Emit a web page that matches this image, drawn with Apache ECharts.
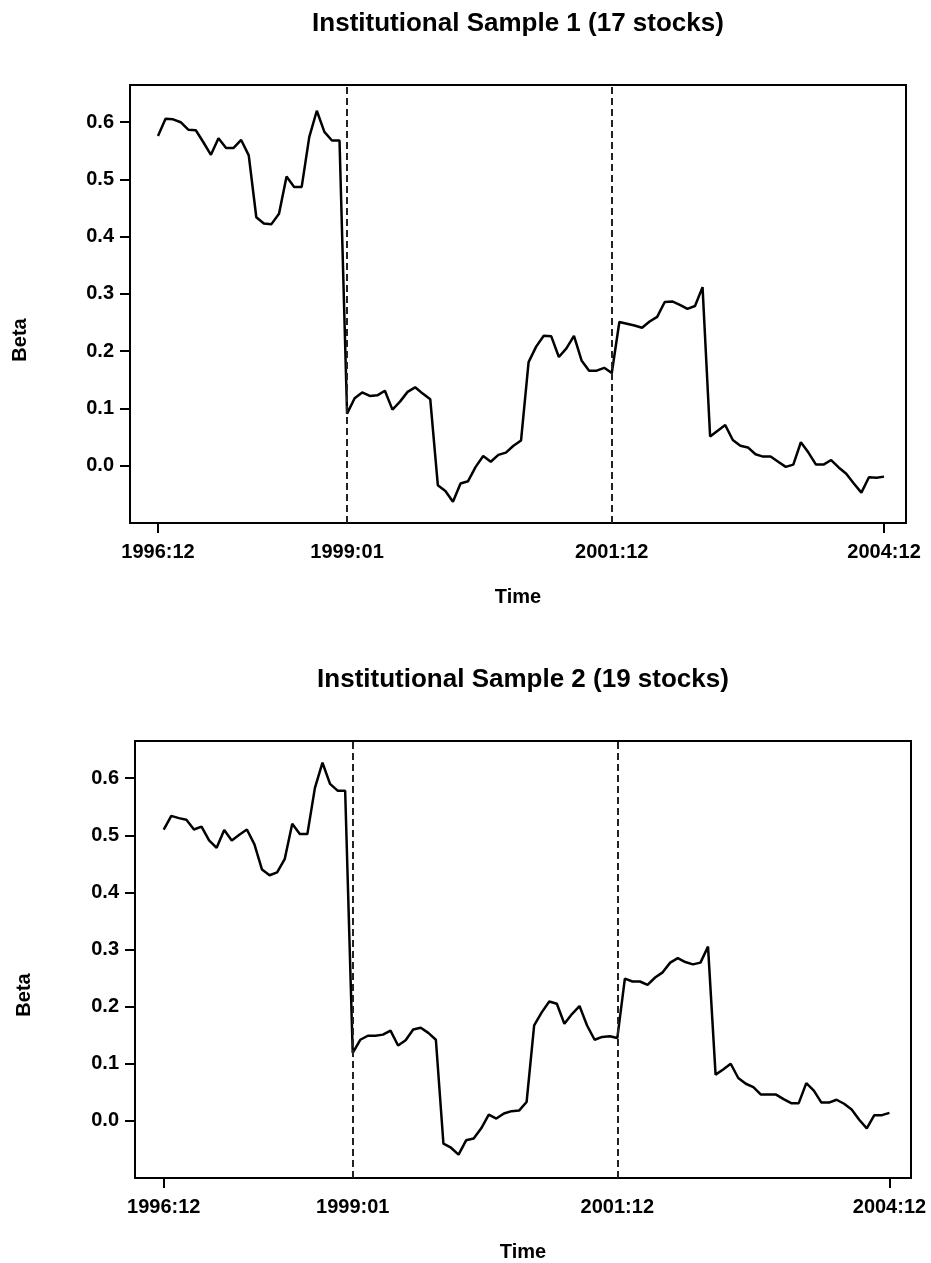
<!DOCTYPE html>
<html><head><meta charset="utf-8">
<script src="https://cdn.jsdelivr.net/npm/echarts@6/dist/echarts.min.js"></script>
<style>html,body{margin:0;padding:0;background:#fff}#c{width:931px;height:1263px}</style>
</head><body><div id="c"></div>
<script>
// Monthly observations 1996:12 ... 2004:12 (97 months)
const months = [];
for (let y = 1996, m = 12; months.length < 97;) {
  months.push(y + ':' + String(m).padStart(2, '0'));
  m++; if (m > 12) { m = 1; y++; }
}
const tickLabels = ['1996:12', '1999:01', '2001:12', '2004:12'];
const tickMarks = ['1996:12', '2004:12'];
const breakMonths = ['1999:01', '2001:12'];
const yTicks = [0.0, 0.1, 0.2, 0.3, 0.4, 0.5, 0.6];
const titles = ['Institutional Sample 1 (17 stocks)', 'Institutional Sample 2 (19 stocks)'];

const beta1 = [
  0.576, 0.606, 0.605, 0.600, 0.587, 0.586, 0.565, 0.543, 0.572, 0.555,
  0.555, 0.569, 0.542, 0.434, 0.423, 0.422, 0.440, 0.505, 0.487, 0.487,
  0.574, 0.620, 0.583, 0.568, 0.568, 0.091, 0.118, 0.128, 0.122, 0.123,
  0.131, 0.098, 0.112, 0.129, 0.137, 0.126, 0.116, -0.034, -0.044, -0.063,
  -0.031, -0.027, -0.002, 0.017, 0.007, 0.019, 0.023, 0.035, 0.044, 0.181,
  0.208, 0.227, 0.226, 0.190, 0.205, 0.227, 0.184, 0.166, 0.166, 0.171,
  0.162, 0.251, 0.248, 0.245, 0.241, 0.252, 0.260, 0.286, 0.287, 0.281,
  0.274, 0.279, 0.312, 0.051, 0.061, 0.071, 0.045, 0.035, 0.032, 0.020,
  0.016, 0.016, 0.007, -0.002, 0.002, 0.041, 0.023, 0.002, 0.002, 0.010,
  -0.003, -0.014, -0.031, -0.047, -0.020, -0.021, -0.019
];
const beta2 = [
  0.510, 0.534, 0.530, 0.527, 0.510, 0.515, 0.491, 0.478, 0.509, 0.491,
  0.501, 0.510, 0.484, 0.440, 0.430, 0.435, 0.458, 0.520, 0.502, 0.502,
  0.583, 0.627, 0.590, 0.578, 0.578, 0.119, 0.142, 0.149, 0.149, 0.151,
  0.158, 0.132, 0.141, 0.160, 0.163, 0.154, 0.142, -0.040, -0.047, -0.059,
  -0.034, -0.031, -0.013, 0.011, 0.004, 0.013, 0.017, 0.018, 0.033, 0.167,
  0.190, 0.209, 0.205, 0.170, 0.187, 0.201, 0.167, 0.142, 0.147, 0.148,
  0.145, 0.249, 0.244, 0.244, 0.238, 0.251, 0.260, 0.277, 0.285, 0.278,
  0.274, 0.277, 0.305, 0.081, 0.090, 0.100, 0.075, 0.065, 0.059, 0.046,
  0.046, 0.046, 0.038, 0.031, 0.031, 0.066, 0.053, 0.032, 0.032, 0.037,
  0.030, 0.020, 0.002, -0.013, 0.010, 0.010, 0.014
];

const FONT = '"Liberation Sans", Arial, Helvetica, sans-serif';
const idx = s => months.indexOf(s);
const series = [beta1, beta2];

const layout = [
  { left: 130, width: 776, top: 85, height: 438, xMin: -3.7, xMax: 98.9, titleX: 518, titleTop: 11, betaX: 20, betaY: 340 },
  { left: 135, width: 776, top: 741, height: 439, xMin: -3.8, xMax: 98.85, titleX: 523, titleTop: 667, betaX: 24, betaY: 995 }
];

const labelStyle = { color: '#000', fontFamily: FONT, fontWeight: 'bold', fontSize: 20 };

const option = {
  animation: false,
  backgroundColor: '#fff',
  title: layout.map((L, k) => ({
    text: titles[k], left: L.titleX, top: L.titleTop, textAlign: 'center', padding: 0,
    textStyle: { color: '#000', fontFamily: FONT, fontWeight: 'bold', fontSize: 26 }
  })),
  grid: layout.map(L => ({
    left: L.left, top: L.top, width: L.width, height: L.height,
    show: true, borderColor: '#000', borderWidth: 2, backgroundColor: 'transparent', containLabel: false
  })),
  xAxis: layout.map((L, k) => ({
    gridIndex: k, type: 'value', min: L.xMin, max: L.xMax, position: 'bottom',
    axisLine: { show: false, onZero: false }, splitLine: { show: false },
    axisTick: { show: true, customValues: tickMarks.map(idx), length: 10, lineStyle: { color: '#000', width: 2 } },
    axisLabel: Object.assign({ customValues: tickLabels.map(idx), formatter: v => months[Math.round(v)], margin: 19 }, labelStyle),
    name: 'Time', nameLocation: 'middle', nameGap: 64,
    nameTextStyle: { color: '#000', fontFamily: FONT, fontWeight: 'bold', fontSize: 20 }
  })),
  yAxis: layout.map((L, k) => ({
    gridIndex: k, type: 'value', min: -0.1, max: 0.665, position: 'left',
    axisLine: { show: false, onZero: false }, splitLine: { show: false },
    axisTick: { show: true, customValues: yTicks, length: 10, lineStyle: { color: '#000', width: 2 } },
    axisLabel: Object.assign({ customValues: yTicks, formatter: v => v.toFixed(1), margin: 16 }, labelStyle)
  })),
  graphic: layout.map(L => ({
    type: 'text', x: L.betaX, y: L.betaY, rotation: Math.PI / 2,
    style: { text: 'Beta', fill: '#000', font: 'bold 20px ' + FONT, align: 'center', verticalAlign: 'middle' }
  })),
  series: series.map((vals, k) => ({
    type: 'line', xAxisIndex: k, yAxisIndex: k,
    data: vals.map((v, i) => [i, v]),
    showSymbol: false, symbol: 'none',
    lineStyle: { color: '#000', width: 2.5 },
    markLine: {
      silent: true, symbol: 'none', label: { show: false },
      lineStyle: { color: '#222', width: 2, type: [7, 4] },
      data: breakMonths.map(m => ({ xAxis: idx(m) }))
    }
  }))
};

const chart = echarts.init(document.getElementById('c'), null, { renderer: 'canvas' });
chart.setOption(option);
</script>
</body></html>
